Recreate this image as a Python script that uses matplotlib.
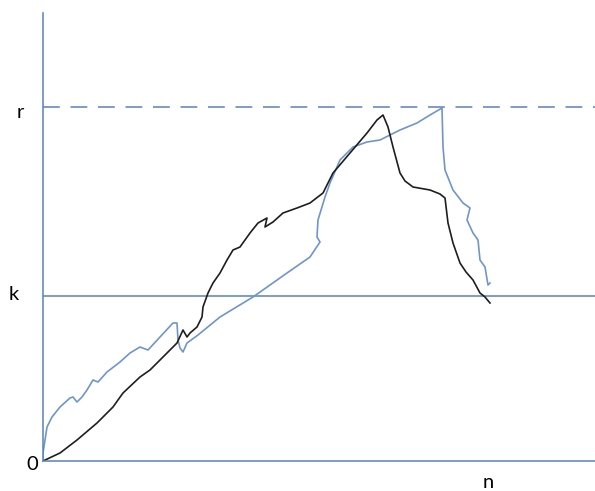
import matplotlib
matplotlib.use("Agg")
import matplotlib.pyplot as plt

# Levels and labels
r_level = 354
k_level = 165
n_pos = 445
labels = {"r": "r", "k": "k", "zero": "0", "n": "n"}

# Black path
black_x = [0, 17, 34, 54, 70, 80, 97, 107, 117, 127, 134, 140, 144, 147, 154, 159, 160,
           165, 170, 177, 184, 190, 197, 207, 215, 224, 222, 230, 240, 254, 267, 280,
           290, 307, 324, 334, 340, 345, 350, 357, 362, 370, 387, 397, 402, 405, 410,
           417, 423, 430, 437, 442, 447]
black_y = [0, 8, 21, 38, 54, 68, 84, 91, 101, 111, 118, 131, 124, 128, 134, 144, 154,
           168, 178, 188, 201, 211, 214, 228, 238, 243, 234, 239, 248, 253, 258, 268,
           288, 308, 328, 341, 346, 334, 314, 288, 280, 274, 271, 267, 263, 238, 218,
           198, 189, 181, 168, 164, 158]

# Blue path
blue_x = [0, 0, 4, 9, 17, 27, 30, 34, 39, 44, 50, 55, 64, 77, 87, 97, 105, 117, 130,
          134, 135, 137, 140, 144, 155, 177, 210, 244, 267, 277, 274, 275, 282, 287,
          297, 310, 324, 337, 357, 374, 387, 399, 400, 402, 410, 420, 427, 424, 430,
          435, 437, 442, 445, 447]
blue_y = [0, 8, 34, 44, 54, 63, 64, 59, 64, 71, 81, 79, 89, 99, 108, 114, 111, 124, 138,
          138, 121, 113, 109, 118, 126, 144, 164, 188, 204, 219, 224, 241, 264, 278,
          301, 314, 319, 321, 331, 338, 346, 353, 314, 291, 271, 258, 253, 241, 228,
          221, 201, 194, 176, 178]

axis_color = "#5a82b8"
fig = plt.figure(figsize=(5.95, 4.91), dpi=100)
ax = fig.add_axes([43/595, 30/491, 552/595, 448/491])
ax.set_xlim(0, 552)
ax.set_ylim(0, 448)
for s in ["top", "right"]:
    ax.spines[s].set_visible(False)
for s in ["left", "bottom"]:
    ax.spines[s].set_color(axis_color)
    ax.spines[s].set_linewidth(1.1)
ax.set_xticks([])
ax.set_yticks([])

ax.axhline(r_level, color=axis_color, lw=1.1, dashes=(11, 7))
ax.axhline(k_level, color=axis_color, lw=1.1)

ax.plot(blue_x, blue_y, color="#6f95cb", lw=1.2, solid_joinstyle="round")
ax.plot(black_x, black_y, color="#1e1e1e", lw=1.2, solid_joinstyle="round")

fs = 14.5
fam = "Lato"
ax.text(-23, r_level - 5, labels["r"], fontsize=fs, family=fam, ha="center", va="center", clip_on=False)
ax.text(-29, k_level + 1, labels["k"], fontsize=fs, family=fam, ha="center", va="center", clip_on=False)
ax.text(-11, -4, labels["zero"], fontsize=fs, family=fam, ha="center", va="center", clip_on=False)
ax.text(n_pos, -21, labels["n"], fontsize=fs, family=fam, ha="center", va="center", clip_on=False)

fig.savefig("out.png", dpi=100)
